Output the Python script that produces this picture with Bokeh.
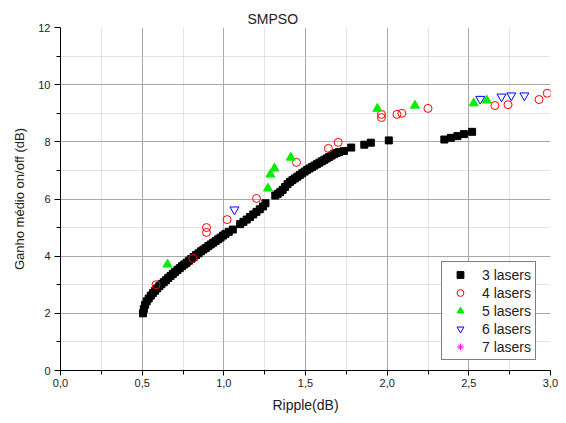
from bokeh.plotting import figure
from bokeh.models import Range1d, FixedTicker, CustomJSTickFormatter, Legend, LegendItem
from bokeh.embed import file_html
from bokeh.resources import INLINE

# ---- data ----
x3 = [0.505, 0.510, 0.518, 0.528, 0.540, 0.553, 0.566, 0.579, 0.592, 0.605,
      0.618, 0.632, 0.646, 0.660, 0.674, 0.688, 0.702, 0.716, 0.730, 0.744,
      0.758, 0.772, 0.786, 0.800, 0.815, 0.830, 0.845, 0.860, 0.875, 0.890,
      0.905, 0.920, 0.935, 0.950, 0.965, 0.980, 0.995, 1.010, 1.030, 1.055,
      1.100, 1.120, 1.140, 1.160, 1.180, 1.200, 1.220, 1.240, 1.255,
      1.315, 1.330, 1.345, 1.360, 1.375, 1.390, 1.405, 1.420, 1.435, 1.450,
      1.465, 1.480, 1.495, 1.510, 1.525, 1.540, 1.555, 1.570, 1.585, 1.600,
      1.615, 1.630, 1.645, 1.660, 1.675, 1.690, 1.705, 1.735, 1.780, 1.860,
      1.900, 2.010, 2.350, 2.390, 2.430, 2.470, 2.520]
y3 = [2.00, 2.15, 2.30, 2.42, 2.52, 2.62, 2.71, 2.79, 2.87, 2.95,
      3.02, 3.09, 3.16, 3.24, 3.31, 3.38, 3.45, 3.52, 3.58, 3.65,
      3.71, 3.77, 3.84, 3.90, 3.97, 4.04, 4.10, 4.17, 4.23, 4.29,
      4.35, 4.41, 4.47, 4.53, 4.59, 4.65, 4.72, 4.78, 4.85, 4.93,
      5.12, 5.20, 5.28, 5.37, 5.46, 5.55, 5.64, 5.74, 5.85,
      6.12, 6.18, 6.24, 6.32, 6.42, 6.52, 6.60, 6.66, 6.72, 6.78,
      6.84, 6.90, 6.96, 7.02, 7.07, 7.12, 7.17, 7.22, 7.27, 7.32,
      7.37, 7.42, 7.47, 7.52, 7.57, 7.61, 7.64, 7.68, 7.80, 7.90,
      7.97, 8.05, 8.08, 8.14, 8.20, 8.27, 8.35]

x4 = [0.585, 0.81, 0.894, 0.894, 1.02, 1.20, 1.445, 1.64, 1.70, 1.965, 1.965,
      2.06, 2.09, 2.25, 2.66, 2.74, 2.93, 2.98]
y4 = [3.00, 3.92, 5.00, 4.83, 5.28, 6.02, 7.28, 7.77, 7.98, 8.96, 8.85,
      8.96, 9.00, 9.17, 9.27, 9.30, 9.48, 9.70]

x5 = [0.655, 1.27, 1.285, 1.31, 1.41, 1.94, 2.17, 2.53, 2.61]
y5 = [3.71, 6.37, 6.86, 7.07, 7.45, 9.16, 9.27, 9.35, 9.45]

x6 = [1.065, 2.57, 2.70, 2.76, 2.84]
y6 = [5.63, 9.50, 9.58, 9.62, 9.62]

# "7 lasers" has no visible point in the chart
x7 = [float("nan")]
y7 = [float("nan")]

labels = ["3 lasers", "4 lasers", "5 lasers", "6 lasers", "7 lasers"]
x_major = [0.0, 0.5, 1.0, 1.5, 2.0, 2.5, 3.0]
x_minor = [0.25, 0.75, 1.25, 1.75, 2.25, 2.75]
y_major = [0, 2, 4, 6, 8, 10, 12]
y_minor = [1, 3, 5, 7, 9, 11]

FONT = "Liberation Sans"

p = figure(width=558, height=415, output_backend="svg", toolbar_location=None,
           x_range=Range1d(0, 3), y_range=Range1d(0, 12),
           min_border_left=60, min_border_right=8, min_border_top=27, min_border_bottom=45)
p.outline_line_color = None
p.background_fill_color = "white"
p.border_fill_color = "white"

# title
p.title.text = "SMPSO"
p.title.align = "left"
p.title.offset = 187
p.title.vertical_align = "middle"
p.title.standoff = 0
p.title.text_font = FONT
p.title.text_font_size = "14px"
p.title.text_font_style = "normal"
p.title.text_color = "#222222"

# axes
for ax, maj, mnr in ((p.xaxis[0], x_major, x_minor), (p.yaxis[0], y_major, y_minor)):
    ax.ticker = FixedTicker(ticks=maj, minor_ticks=mnr)
    ax.axis_line_color = "black"
    ax.major_tick_line_color = "black"
    ax.minor_tick_line_color = "black"
    ax.major_tick_in = 0
    ax.minor_tick_in = 0
    ax.major_label_text_font = FONT
    ax.major_label_text_font_size = "11px"
    ax.major_label_text_color = "#222222"
    ax.axis_label_text_font = FONT
    ax.axis_label_text_font_style = "normal"
    ax.axis_label_text_color = "#222222"

p.xaxis[0].formatter = CustomJSTickFormatter(code="return tick.toFixed(1).replace('.', ',')")
p.xaxis[0].major_tick_out = 5
p.xaxis[0].minor_tick_out = 4
p.xaxis[0].major_label_standoff = 3
p.xaxis[0].axis_label = "Ripple(dB)"
p.xaxis[0].axis_label_text_font_size = "14px"
p.xaxis[0].axis_label_standoff = 7

p.yaxis[0].major_tick_out = 6
p.yaxis[0].minor_tick_out = 4
p.yaxis[0].major_label_standoff = 4
p.yaxis[0].axis_label = "Ganho médio on/off (dB)"
p.yaxis[0].axis_label_text_font_size = "13px"
p.yaxis[0].axis_label_standoff = 8

# grids
p.xgrid.ticker = FixedTicker(ticks=x_major[1:-1], minor_ticks=x_minor)
p.ygrid.ticker = FixedTicker(ticks=y_major[1:-1], minor_ticks=y_minor)
for g in (p.xgrid[0], p.ygrid[0]):
    g.grid_line_color = "#a8a8a8"
    g.grid_line_width = 1
    g.minor_grid_line_color = "#c8c8c8"
    g.minor_grid_line_dash = "1 1"
    g.minor_grid_line_width = 1

r3 = p.scatter(x3, y3, marker="square", size=7, fill_color="black", line_color="black")
r4 = p.scatter(x4, y4, marker="circle", size=8, fill_color=None, line_color="#ff0000", line_width=1)
r5 = p.scatter(x5, y5, marker="triangle", size=9, fill_color="#00ee00", line_color="#00ee00")
r6 = p.scatter(x6, y6, marker="inverted_triangle", size=9, fill_color=None, line_color="#0000ff", line_width=1)
r7 = p.scatter(x7, y7, marker="asterisk", size=8, line_color="#ff00ff", line_width=1)

legend = Legend(items=[LegendItem(label=l, renderers=[r], index=0)
                       for l, r in zip(labels, [r3, r4, r5, r6, r7])],
                location=(381, 10))
legend.border_line_color = "black"
legend.border_line_width = 1
legend.background_fill_color = "white"
legend.background_fill_alpha = 1
legend.label_text_font = FONT
legend.label_text_font_size = "14px"
legend.label_text_color = "#222222"
legend.glyph_width = 28
legend.glyph_height = 17
legend.label_height = 17
legend.spacing = 1
legend.padding = 4
legend.margin = 0
legend.label_standoff = 8
p.add_layout(legend, "center")

open("out.html", "w").write(file_html(p, INLINE))
